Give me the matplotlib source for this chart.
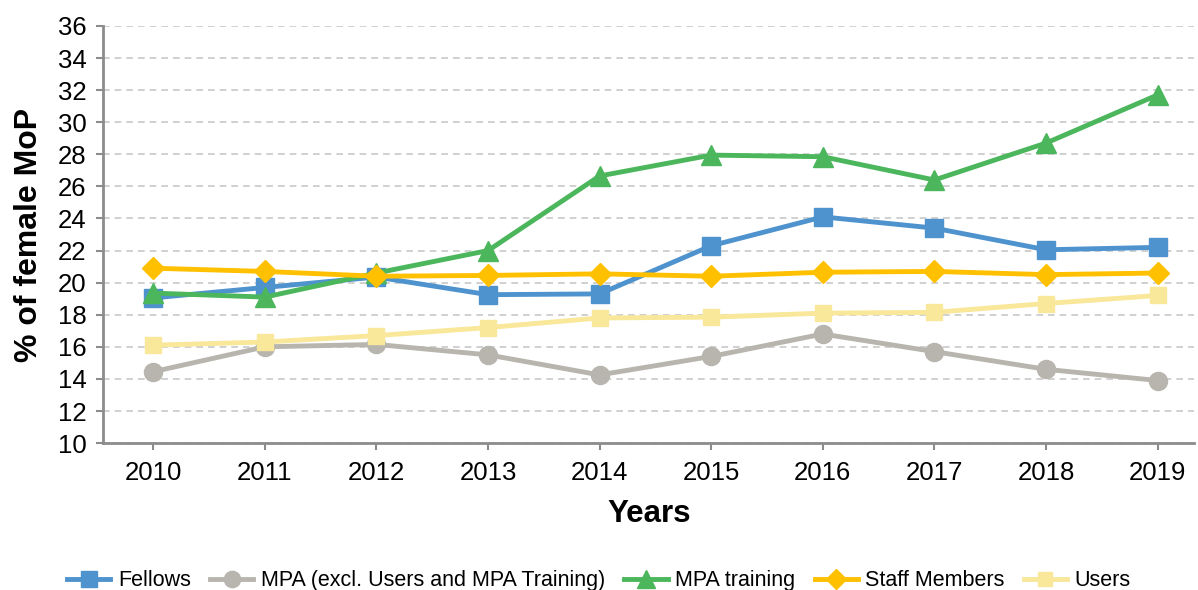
import matplotlib
matplotlib.use("Agg")
import matplotlib.pyplot as plt

plt.rcParams['font.family'] = ['Liberation Sans', 'DejaVu Sans']

years = [2010, 2011, 2012, 2013, 2014, 2015, 2016, 2017, 2018, 2019]

fellows = [19.05, 19.7, 20.35, 19.25, 19.3, 22.3, 24.1, 23.4, 22.05, 22.2]
mpa_excl = [14.45, 16.0, 16.15, 15.5, 14.25, 15.4, 16.8, 15.7, 14.6, 13.9]
mpa_training = [19.35, 19.1, 20.6, 22.0, 26.65, 27.95, 27.85, 26.4, 28.7, 31.7]
staff = [20.9, 20.7, 20.4, 20.45, 20.55, 20.4, 20.65, 20.7, 20.5, 20.6]
users = [16.1, 16.3, 16.7, 17.2, 17.8, 17.85, 18.1, 18.15, 18.7, 19.2]

series = [
    ("Fellows", fellows, "#4E93CE", "s", 13),
    ("MPA (excl. Users and MPA Training)", mpa_excl, "#B8B5AE", "o", 13),
    ("MPA training", mpa_training, "#4BB65B", "^", 14),
    ("Staff Members", staff, "#FFC000", "D", 11),
    ("Users", users, "#F9E79A", "s", 11),
]

fig = plt.figure(figsize=(11.98, 5.90), dpi=100)
ax = fig.add_axes([0.086, 0.249, 0.911, 0.707])

for name, vals, col, mk, ms in series:
    ax.plot(years, vals, color=col, lw=3.5, marker=mk, markersize=ms,
            markeredgecolor=col, label=name, clip_on=False)

ax.set_ylim(10, 36)
ax.set_yticks(range(10, 37, 2))
ax.set_xlim(2009.55, 2019.33)
ax.set_xticks(years)

ax.grid(axis='y', linestyle=(0, (4, 3)), color='#C8C8C8', lw=1.2)
ax.set_axisbelow(True)
for s in ['top', 'right']:
    ax.spines[s].set_visible(False)
for s in ['left', 'bottom']:
    ax.spines[s].set_color('#8C8C8C')
    ax.spines[s].set_linewidth(2)
ax.tick_params(axis='both', colors='#8C8C8C', labelcolor='black',
               labelsize=18.5, width=1.5, length=5)
ax.tick_params(axis='y', pad=7)
ax.tick_params(axis='x', pad=8)

ax.set_xlabel("Years", fontsize=22.5, fontweight='bold', labelpad=10)
ax.set_ylabel("% of female MoP", fontsize=23, fontweight='bold', labelpad=10)

fig.legend(loc='lower center', bbox_to_anchor=(0.5, -0.035), ncol=5,
           frameon=False, fontsize=15.5, handlelength=2.0, columnspacing=0.9,
           handletextpad=0.35, markerscale=0.9)

fig.savefig("out.png", dpi=100)
